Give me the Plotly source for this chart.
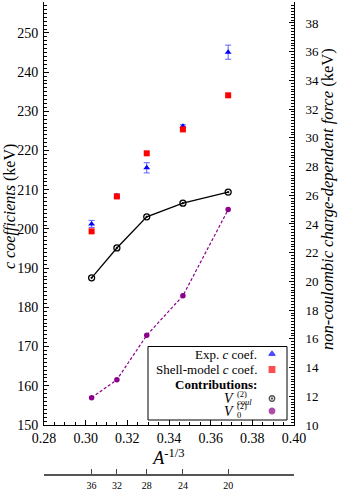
import plotly.graph_objects as go

# ---- data ----
mass_numbers = [36, 32, 28, 24, 20]
exp_c = [201.3, 208.5, 215.6, 226.2, 245.1]
exp_err = [0.9, 0.4, 1.3, 0.4, 1.8]
shell_c = [199.4, 208.3, 219.3, 225.4, 234.1]
v_coul = [20.25, 22.33, 24.5, 25.45, 26.22]
v_zero = [11.9, 13.15, 16.25, 19.0, 25.0]
x_ticks = [0.28, 0.30, 0.32, 0.34, 0.36, 0.38, 0.40]

x_vals = [a ** (-1.0 / 3.0) for a in mass_numbers]

FONT = "Liberation Serif"
PURPLE = "#8B008B"

W, H = 343, 490
ML, MR, MT, MB = 44, 49, 2, 8
PW, PH = W - ML - MR, H - MT - MB


def px_y(py):
    return (H - MB - py) / PH


def px_x(px):
    return (px - ML) / PW


main_bottom = px_y(425)

fig = go.Figure()

fig.add_trace(go.Scatter(
    x=x_vals, y=exp_c, mode="markers", xaxis="x", yaxis="y",
    marker=dict(symbol="triangle-up", size=6, color="#0000ff"),
    error_y=dict(type="data", array=exp_err, color="#5f5fff", thickness=1, width=3),
    showlegend=False, hoverinfo="skip"))

fig.add_trace(go.Scatter(
    x=x_vals, y=shell_c, mode="markers", xaxis="x", yaxis="y",
    marker=dict(symbol="square", size=6, color="#ff0000"),
    showlegend=False, hoverinfo="skip"))

fig.add_trace(go.Scatter(
    x=x_vals, y=v_coul, mode="lines+markers", xaxis="x", yaxis="y2",
    line=dict(color="black", width=1.3),
    marker=dict(symbol="circle-open-dot", size=6, color="black", line=dict(width=1.3)),
    showlegend=False, hoverinfo="skip"))

fig.add_trace(go.Scatter(
    x=x_vals, y=v_zero, mode="lines+markers", xaxis="x", yaxis="y2",
    line=dict(color=PURPLE, width=1.2, dash="3px,2px"),
    marker=dict(symbol="circle", size=5.5, color=PURPLE),
    showlegend=False, hoverinfo="skip"))

# invisible trace so the secondary A-axis is drawn
fig.add_trace(go.Scatter(
    x=x_vals, y=exp_c, mode="markers", xaxis="x2", yaxis="y",
    marker=dict(opacity=0), showlegend=False, hoverinfo="skip"))

# legend glyphs (drawn on a hidden paper-like axis)
leg_x = px_x(272)
leg_rows = [354, 369.5, 398.5, 411]
leg_symbols = ["triangle-up", "square", "circle-open-dot", "circle"]
leg_colors = ["#0000ff", "#ff0000", "black", PURPLE]
leg_sizes = [5.5, 5.5, 5.5, 5.5]
fig.add_trace(go.Scatter(
    x=[leg_x] * 4, y=[px_y(r) for r in leg_rows], mode="markers",
    xaxis="x3", yaxis="y3",
    marker=dict(symbol=leg_symbols, color=leg_colors, size=leg_sizes,
                line=dict(width=1.3, color=leg_colors)),
    showlegend=False, hoverinfo="skip", cliponaxis=False))

tickfont = dict(family=FONT, size=14, color="black")

fig.update_layout(
    width=W, height=H,
    margin=dict(l=ML, r=MR, t=MT, b=MB, autoexpand=False),
    paper_bgcolor="white", plot_bgcolor="rgba(0,0,0,0)",
    font=dict(family=FONT, color="black"),
    xaxis=dict(
        range=[0.28, 0.40], tickvals=x_ticks, ticktext=[f"{v:.2f}" for v in x_ticks],
        ticks="inside", ticklen=5, tickwidth=1, tickcolor="black",
        minor=dict(dtick=0.005, tick0=0.28, ticks="inside", ticklen=3, tickcolor="black"),
        showline=True, linecolor="black", linewidth=1, showgrid=False, zeroline=False,
        tickfont=tickfont, anchor="y", automargin=False, ticklabelstandoff=0,
        title=dict(text="<i>A</i><sup>-1/3</sup>", font=dict(family=FONT, size=18), standoff=0),
    ),
    xaxis2=dict(
        overlaying="x", anchor="free", position=px_y(475), side="bottom",
        range=[0.28, 0.40], tickvals=x_vals, ticktext=[str(a) for a in mass_numbers],
        ticks="inside", ticklen=5, tickwidth=1, tickcolor="#444444",
        showline=True, linecolor="#555555", linewidth=1.5, showgrid=False, zeroline=False,
        tickfont=dict(family=FONT, size=10, color="black"), ticklabelstandoff=1,
        automargin=False,
    ),
    yaxis=dict(
        domain=[main_bottom, 1], range=[150, 257.9], dtick=10, tick0=150,
        ticks="inside", ticklen=5, tickwidth=1, tickcolor="black",
        minor=dict(dtick=1, ticks="inside", ticklen=3, tickcolor="black"),
        showline=True, linecolor="black", linewidth=1, showgrid=False, zeroline=False,
        tickfont=tickfont, automargin=False, ticklabelstandoff=2,
    ),
    yaxis2=dict(
        domain=[main_bottom, 1], range=[10, 39.46], dtick=2, tick0=10,
        overlaying="y", side="right", anchor="x",
        ticks="inside", ticklen=5, tickwidth=1, tickcolor="black",
        minor=dict(dtick=0.2, ticks="inside", ticklen=3, tickcolor="black"),
        showline=True, linecolor="black", linewidth=1, showgrid=False, zeroline=False,
        tickfont=dict(family=FONT, size=13, color="black"), automargin=False,
        ticklabelstandoff=8,
    ),
    xaxis3=dict(domain=[0, 1], range=[0, 1], visible=False, anchor="y3", fixedrange=True),
    yaxis3=dict(domain=[0, 1], range=[0, 1], visible=False, anchor="x3", fixedrange=True),
)

# axis titles as rotated annotations
fig.add_annotation(text="<i>c coefficients</i> (keV)", xref="paper", yref="paper",
                   x=px_x(10), y=px_y(207), textangle=-90, showarrow=False,
                   xanchor="center", yanchor="middle",
                   font=dict(family=FONT, size=16, color="black"))
fig.add_annotation(text="<i>non-coulombic charge-dependent force</i> (keV)",
                   xref="paper", yref="paper", x=px_x(327), y=px_y(199), textangle=-90,
                   showarrow=False, xanchor="center", yanchor="middle",
                   font=dict(family=FONT, size=16.5, color="black"))

# legend box
fig.add_shape(type="rect", xref="paper", yref="paper",
              x0=px_x(148), x1=px_x(287), y0=px_y(420), y1=px_y(346.5),
              line=dict(color="black", width=1), fillcolor="white", layer="below")

leg_texts = [
    ("Exp. <i>c</i> coef.", 354),
    ("Shell-model <i>c</i> coef.", 369.5),
    ("<b>Contributions:</b>", 384),
]
for txt, py in leg_texts:
    fig.add_annotation(text=txt, xref="paper", yref="paper", x=px_x(259), y=px_y(py),
                       xanchor="right", yanchor="middle", showarrow=False,
                       font=dict(family=FONT, size=13, color="black"))

# V symbols with stacked super/subscripts
for py, sub in [(398.5, "<i>coul</i>"), (411, "0")]:
    fig.add_annotation(text="<i>V</i>", xref="paper", yref="paper", x=px_x(236), y=px_y(py),
                       xanchor="right", yanchor="middle", showarrow=False,
                       font=dict(family=FONT, size=14, color="black"))
    fig.add_annotation(text="(2)", xref="paper", yref="paper", x=px_x(235), y=px_y(py - 5),
                       xanchor="left", yanchor="middle", showarrow=False,
                       font=dict(family=FONT, size=8.5, color="black"))
    fig.add_annotation(text=sub, xref="paper", yref="paper", x=px_x(235), y=px_y(py + 3.5),
                       xanchor="left", yanchor="middle", showarrow=False,
                       font=dict(family=FONT, size=8.5, color="black"))

fig.write_html("out.html", post_script="document.body.style.margin='0';",
               config={"displayModeBar": False})
